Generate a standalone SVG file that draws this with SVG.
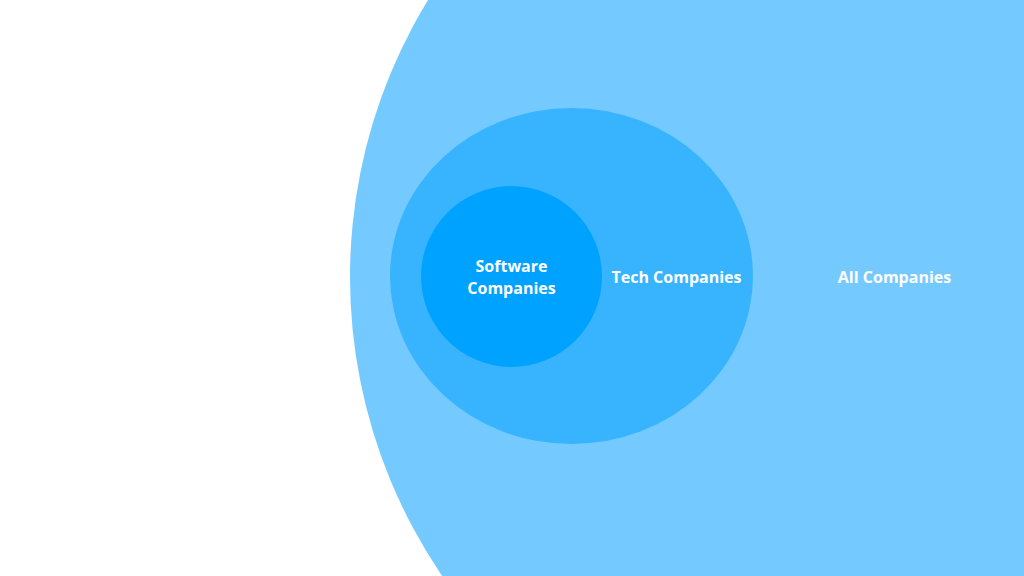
<svg xmlns="http://www.w3.org/2000/svg" width="1024" height="576" viewBox="0 0 1024 576">
<style>
.lbl{font-family:"Open Sans","Noto Sans","Liberation Sans",sans-serif;font-weight:700;font-size:16px;fill:#ffffff;text-anchor:middle}
</style>
<rect width="1024" height="576" fill="#ffffff"/>
<g id="all-companies">
<circle cx="881" cy="277" r="531" fill="#74CAFF"/>
<text class="lbl" x="894.5" y="283">All Companies</text>
</g>
<g id="tech-companies">
<ellipse cx="571.5" cy="276" rx="181.5" ry="168" fill="#38B4FF"/>
<text class="lbl" x="676.5" y="283">Tech Companies</text>
</g>
<g id="software-companies">
<circle cx="511.5" cy="276.5" r="90.5" fill="#00A2FF"/>
<text class="lbl" x="511.5" y="272">Software</text>
<text class="lbl" x="511.5" y="293.5">Companies</text>
</g>
<g id="connectors"/>
</svg>
